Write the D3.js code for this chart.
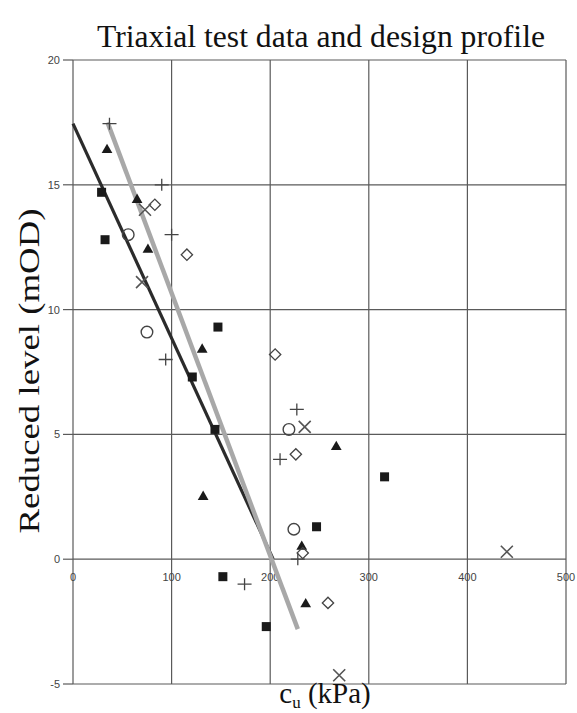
<!DOCTYPE html>
<html><head><meta charset="utf-8">
<script src="https://cdn.jsdelivr.net/npm/d3@7"></script>
<style>body{margin:0;background:#fff}</style>
</head><body>
<svg id="c" width="577" height="713"></svg>
<script>
// ---- data ----
const xTicks = [0,100,200,300,400,500];
const yTicks = [-5,0,5,10,15,20];
const yTickLabels = ["-5","0","5","10","15","20"];
const squares   = [[29,14.7],[32.5,12.8],[147,9.3],[121,7.3],[144,5.2],[247,1.3],[316,3.3],[152,-0.7],[196,-2.7]];
const triangles = [[34.5,16.4],[65,14.4],[76,12.4],[131,8.4],[132,2.5],[267,4.5],[232,0.5],[236,-1.8]];
const circles   = [[56,13.0],[75,9.1],[219,5.2],[224,1.2]];
const diamonds  = [[83,14.2],[115.5,12.2],[205,8.2],[226,4.2],[233,0.25],[258.6,-1.75]];
const pluses    = [[37,17.45],[90,15],[100,13.0],[94,8.0],[227,6.0],[210,4.0],[228,0],[174,-1.0]];
const crosses   = [[73,14.0],[70,11.1],[235,5.3],[440,0.3],[270,-4.65]];
const designDark = [[0,17.45],[203,0]];
const designGrey = [[35,17.5],[228,-2.8]];

const svg = d3.select("#c");
const x = d3.scaleLinear().domain([0,500]).range([73,566]);
const y = d3.scaleLinear().domain([-5,20]).range([684,60]);

// grid
const g = svg.append("g");
g.selectAll("line.v").data(xTicks).enter().append("line")
  .attr("x1",d=>x(d)).attr("x2",d=>x(d)).attr("y1",y(-5)).attr("y2",y(20))
  .attr("stroke","#5a5a5a").attr("stroke-width",1.2);
g.selectAll("line.h").data(yTicks).enter().append("line")
  .attr("x1",x(0)).attr("x2",x(500)).attr("y1",d=>y(d)).attr("y2",d=>y(d))
  .attr("stroke","#5a5a5a").attr("stroke-width",1.2);
// y ticks outward
g.selectAll("line.t").data(yTicks).enter().append("line")
  .attr("x1",x(0)-10).attr("x2",x(0)).attr("y1",d=>y(d)).attr("y2",d=>y(d))
  .attr("stroke","#5a5a5a").attr("stroke-width",1.2);

// tick labels
svg.selectAll("text.yt").data(yTicks).enter().append("text")
  .attr("x",x(0)-13).attr("y",d=>y(d)+4).attr("text-anchor","end")
  .attr("font-family","Liberation Sans, Arial, sans-serif").attr("font-size",11).attr("fill","#444")
  .text((d,i)=>yTickLabels[i]);
svg.selectAll("text.xt").data(xTicks).enter().append("text")
  .attr("x",d=>x(d)).attr("y",y(0)+22).attr("text-anchor","middle")
  .attr("font-family","Liberation Sans, Arial, sans-serif").attr("font-size",11).attr("fill","#444")
  .text(d=>d);

// design lines
const line = d3.line().x(d=>x(d[0])).y(d=>y(d[1]));
svg.append("path").attr("d",line(designDark)).attr("stroke","#2b2b2b").attr("stroke-width",3.2).attr("fill","none");
svg.append("path").attr("d",line(designGrey)).attr("stroke","#a8a8a8").attr("stroke-width",4.5).attr("fill","none");

// markers
const mk = "#1a1a1a";
svg.selectAll("rect.sq").data(squares).enter().append("rect")
  .attr("x",d=>x(d[0])-4.5).attr("y",d=>y(d[1])-4.5).attr("width",9).attr("height",9).attr("fill",mk);
svg.selectAll("path.tri").data(triangles).enter().append("path")
  .attr("transform",d=>`translate(${x(d[0])},${y(d[1])})`)
  .attr("d",d3.symbol(d3.symbolTriangle,50)).attr("fill",mk);
svg.selectAll("circle.ci").data(circles).enter().append("circle")
  .attr("cx",d=>x(d[0])).attr("cy",d=>y(d[1])).attr("r",5.8)
  .attr("fill","none").attr("stroke","#444").attr("stroke-width",1.4);
svg.selectAll("path.di").data(diamonds).enter().append("path")
  .attr("transform",d=>`translate(${x(d[0])},${y(d[1])}) rotate(45)`)
  .attr("d","M-4,-4H4V4H-4Z").attr("fill","none").attr("stroke","#444").attr("stroke-width",1.3);
svg.selectAll("path.pl").data(pluses).enter().append("path")
  .attr("transform",d=>`translate(${x(d[0])},${y(d[1])})`)
  .attr("d","M-7,0H7M0,-6V6").attr("stroke","#444").attr("stroke-width",1.3);
svg.selectAll("path.cr").data(crosses).enter().append("path")
  .attr("transform",d=>`translate(${x(d[0])},${y(d[1])})`)
  .attr("d","M-6,-6L6,6M-6,6L6,-6").attr("stroke","#555").attr("stroke-width",1.6);

// titles
svg.append("text").attr("x",321).attr("y",47).attr("text-anchor","middle")
  .attr("font-family","Liberation Serif, Times New Roman, serif").attr("font-size",31)
  .attr("textLength",448).attr("lengthAdjust","spacingAndGlyphs").attr("fill","#111")
  .text("Triaxial test data and design profile");
svg.append("text").attr("transform","translate(39,371) rotate(-90)").attr("text-anchor","middle")
  .attr("font-family","Liberation Serif, Times New Roman, serif").attr("font-size",29)
  .attr("textLength",325).attr("lengthAdjust","spacingAndGlyphs").attr("fill","#111")
  .text("Reduced level (mOD)");
const xl = svg.append("text").attr("x",325).attr("y",703).attr("text-anchor","middle")
  .attr("font-family","Liberation Serif, Times New Roman, serif").attr("font-size",29).attr("fill","#111");
xl.append("tspan").text("c");
xl.append("tspan").attr("font-size",17).attr("dy",5).text("u");
xl.append("tspan").attr("dy",-5).text(" (kPa)");
</script>
</body></html>
